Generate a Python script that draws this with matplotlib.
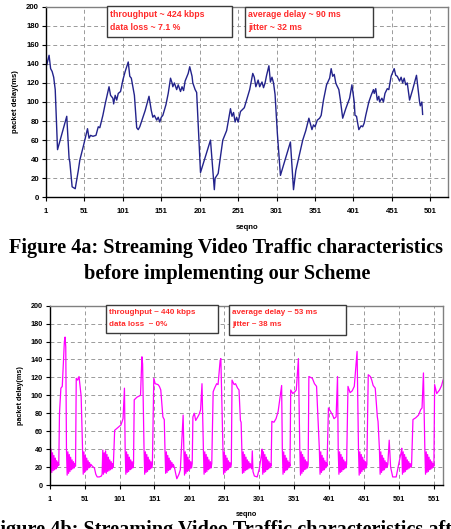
import matplotlib.pyplot as plt
from matplotlib.patches import Rectangle

plt.rcParams['font.family'] = ['Liberation Sans', 'DejaVu Sans']

W, H = 451.0, 529.0

# ---- Figure 4a: before the scheme (seqno, packet delay in ms) ----
top_seq = [1, 2, 5, 7, 9, 11, 13, 16, 28, 31,
           32, 35, 39, 43, 45, 50, 55, 57, 59, 62,
           66, 69, 71, 75, 78, 81, 83, 85, 88, 89,
           91, 93, 95, 98, 101, 104, 108, 110, 112, 114,
           116, 119, 121, 123, 130, 135, 138, 140, 142, 145,
           147, 149, 151, 153, 157, 160, 163, 165, 166, 168,
           171, 173, 176, 178, 180, 182, 186, 188, 191, 192,
           195, 197, 202, 215, 220, 221, 225, 227, 231, 236,
           241, 243, 245, 247, 249, 251, 254, 259, 262, 266,
           270, 272, 274, 277, 279, 282, 284, 286, 288, 291,
           293, 295, 297, 299, 302, 306, 319, 323, 326, 331,
           335, 339, 343, 347, 349, 351, 354, 357, 359, 362,
           366, 370, 372, 374, 376, 378, 379, 382, 384, 387,
           391, 396, 399, 402, 403, 405, 406, 408, 411, 413,
           415, 417, 421, 424, 427, 428, 430, 432, 434, 435,
           438, 440, 442, 445, 447, 450, 454, 456, 458, 461,
           463, 465, 467, 469, 471, 474, 478, 483, 487, 488,
           490, 491]
top_delay = [138, 139, 149, 135, 132, 126, 113, 50, 85, 41,
             37, 11, 9, 28, 39, 55, 72, 62, 65, 64,
             65, 74, 73, 86, 98, 109, 116, 107, 104, 98,
             107, 102, 109, 111, 123, 132, 142, 127, 125, 116,
             107, 73, 71, 74, 91, 106, 91, 84, 86, 81,
             84, 79, 84, 86, 97, 109, 125, 120, 116, 120,
             113, 118, 111, 116, 112, 122, 130, 137, 127, 120,
             113, 110, 26, 60, 8, 20, 25, 37, 60, 70,
             93, 85, 89, 79, 84, 79, 90, 94, 102, 113,
             130, 126, 116, 123, 116, 121, 115, 120, 128, 138,
             121, 126, 120, 108, 67, 23, 58, 8, 28, 46,
             60, 70, 83, 71, 76, 74, 81, 83, 86, 102,
             118, 125, 135, 127, 129, 120, 118, 113, 102, 83,
             93, 104, 118, 100, 86, 85, 80, 71, 75, 74,
             78, 86, 100, 107, 113, 109, 114, 102, 106, 100,
             104, 100, 109, 114, 113, 127, 135, 128, 127, 122,
             126, 120, 125, 118, 120, 102, 113, 128, 100, 96,
             100, 87]
top_xticks = [1, 51, 101, 151, 201, 251, 301, 351, 401, 451, 501]
top_notes = [["throughput ~ 424 kbps", "data loss ~ 7.1 %"],
             ["average delay ~ 90 ms", "jitter ~ 32 ms"]]

# ---- Figure 4b: after the scheme ----
bot_seq = [1, 2, 3, 4, 5, 6, 7, 8, 9, 10, 11, 12, 13, 14,
           15, 17, 19, 22, 23, 24,
           25, 26, 27, 28, 29, 30, 31, 32, 33, 34, 35, 36, 37, 38,
           39, 41, 43, 45, 46,
           48, 49, 50, 51, 52, 53, 54, 55, 56, 57, 58, 59, 60,
           62, 65, 67, 69, 72, 75, 76,
           77, 78, 79, 80, 81, 82, 83, 84, 85, 86, 87, 88, 89, 90, 91, 92,
           94, 97, 100, 103, 106, 108,
           109, 110, 111, 112, 113, 114, 115, 116, 117, 118, 119, 120, 121,
           122, 126, 131, 133, 134,
           136, 137, 138, 139, 140, 141, 142, 143, 144, 145, 146, 147, 148,
           150, 152, 156, 158, 160, 163, 165,
           166, 167, 168, 169, 170, 171, 172, 173, 174, 175, 176, 177, 178,
           180, 181, 183, 186, 188, 192,
           193, 194, 195, 196, 197, 198, 199, 200, 201, 202, 203, 204, 205,
           206, 208, 210, 213, 215, 217, 219,
           221, 222, 223, 224, 225, 226, 227, 228, 229, 230, 231, 232, 233,
           235, 237, 240, 242, 245, 246,
           249, 250, 251, 252, 253, 254, 255, 256, 257, 258, 259, 260, 261,
           262, 265, 267, 270, 272, 274, 275,
           276, 277, 278, 279, 280, 281, 282, 283, 284, 285, 286, 287, 288, 289,
           290, 291, 292, 294, 298, 301, 304,
           305, 306, 307, 308, 309, 310, 311, 312, 313, 314, 315, 316, 317, 318,
           319, 322, 325, 328, 333,
           334, 335, 336, 337, 338, 339, 340, 341, 342, 343, 344, 345,
           346, 349, 352, 354, 357,
           359, 360, 361, 362, 363, 364, 365, 366, 367, 368, 369, 370, 371,
           372, 377, 380, 383, 385,
           387, 388, 389, 390, 391, 392, 393, 394, 395, 396, 397, 398,
           400, 403, 406, 408, 411, 413,
           414, 415, 416, 417, 418, 419, 420, 421, 422, 423, 424, 425, 426,
           428, 431, 434, 437, 441,
           443, 444, 445, 446, 447, 448, 449, 450, 451, 452, 453, 454, 455,
           457, 460, 462, 464, 467, 470, 471,
           473, 474, 475, 476, 477, 478, 479, 480, 481, 482, 483, 484, 485,
           487, 489, 492, 497, 501, 504,
           505, 506, 507, 508, 509, 510, 511, 512, 513, 514, 515, 516, 517, 518, 519,
           521, 525, 529, 532, 534, 536,
           538, 539, 540, 541, 542, 543, 544, 545, 546, 547, 548, 549, 550, 551,
           552, 555, 557, 559, 562, 564]
bot_delay = [43, 13, 40, 14, 36, 16, 33, 17, 30, 18, 27, 20, 25, 22,
             80, 108, 110, 160, 165, 154,
             40, 11, 37, 13, 34, 15, 31, 17, 28, 18, 26, 19, 24, 21,
             119, 117, 121, 106, 99,
             40, 12, 37, 14, 33, 16, 30, 17, 27, 19, 25, 20, 23,
             21, 19, 12, 9, 9, 10, 12,
             39, 12, 36, 14, 38, 13, 34, 15, 31, 16, 28, 17, 26, 18, 24, 20,
             61, 63, 65, 67, 74, 108,
             40, 12, 37, 14, 34, 15, 31, 17, 28, 18, 26, 19, 24,
             95, 98, 100, 143, 135,
             41, 12, 37, 14, 34, 15, 31, 17, 28, 18, 26, 19, 23,
             119, 113, 112, 110, 106, 76, 73,
             40, 13, 37, 14, 33, 16, 30, 17, 27, 19, 25, 20, 23,
             18, 14, 7, 12, 17, 78,
             40, 11, 37, 13, 34, 15, 31, 16, 28, 18, 26, 19, 24,
             76, 80, 72, 76, 79, 84, 113,
             40, 12, 37, 14, 34, 15, 31, 17, 28, 18, 26, 19, 24,
             104, 108, 113, 112, 139, 141,
             40, 12, 37, 14, 33, 16, 30, 17, 27, 19, 25, 20, 23,
             117, 112, 113, 108, 106, 72, 70,
             40, 13, 37, 14, 34, 16, 31, 17, 28, 18, 26, 19, 24, 21,
             18, 38, 15, 10, 9, 18, 33,
             40, 12, 37, 14, 34, 15, 31, 17, 28, 18, 26, 19, 24, 21,
             71, 70, 74, 82, 111,
             40, 12, 37, 14, 33, 16, 30, 17, 27, 19, 25, 21,
             106, 102, 104, 106, 141,
             40, 11, 37, 13, 34, 15, 31, 17, 28, 18, 26, 19, 23,
             121, 119, 113, 110, 74,
             40, 12, 37, 14, 33, 16, 30, 17, 27, 19, 25, 21,
             86, 82, 78, 74, 76, 121,
             40, 12, 37, 14, 34, 15, 31, 17, 28, 18, 26, 19, 23,
             110, 103, 105, 110, 149,
             41, 11, 37, 13, 34, 15, 31, 17, 28, 18, 26, 19, 23,
             123, 121, 117, 111, 108, 76, 71,
             40, 12, 37, 14, 33, 16, 30, 17, 27, 19, 25, 20, 23,
             50, 20, 9, 9, 25, 36,
             41, 12, 37, 14, 34, 15, 31, 17, 28, 18, 26, 19, 24, 20, 22,
             73, 75, 78, 84, 86, 125,
             40, 12, 37, 14, 34, 15, 31, 17, 28, 18, 26, 19, 24, 21,
             112, 102, 104, 106, 111, 117]
bot_xticks = [1, 51, 101, 151, 201, 251, 301, 351, 401, 451, 501, 551]
bot_notes = [["throughput ~ 440 kbps", "data loss  ~ 0%"],
             ["average delay ~ 53 ms", "jitter ~ 38 ms"]]
yticks = [0, 20, 40, 60, 80, 100, 120, 140, 160, 180, 200]


def fx(px):
    return px / W


def fy(py):
    return 1 - py / H


def style_axes(ax, xticks, xmax, fs):
    ax.set_xlim(1, xmax)
    ax.set_ylim(0, 200)
    ax.set_xticks(xticks)
    ax.set_yticks(yticks)
    ax.grid(True, ls=(0, (4, 3)), color='#9a9a9a', lw=0.7)
    ax.set_axisbelow(True)
    for s in ['top', 'right']:
        ax.spines[s].set_color('#808080')
        ax.spines[s].set_linewidth(1.0)
    for s in ['left', 'bottom']:
        ax.spines[s].set_color('black')
        ax.spines[s].set_linewidth(1.0)
    ax.tick_params(axis='y', direction='out', length=3, width=0.8, pad=2, labelsize=fs)
    ax.tick_params(axis='x', direction='out', length=3, width=0.8, pad=5, labelsize=fs)
    for lbl in ax.get_xticklabels() + ax.get_yticklabels():
        lbl.set_fontweight('bold')
    ax.set_xlabel('seqno', fontsize=fs, fontweight='bold', labelpad=6)
    ax.set_ylabel('packet delay(ms)', fontsize=fs, fontweight='bold', labelpad=5)


def note_box(fig, x0, y0, x1, y1, lines, ys, fs):
    fig.add_artist(Rectangle((fx(x0), fy(y1)), fx(x1) - fx(x0), fy(y0) - fy(y1),
                             transform=fig.transFigure, facecolor='white',
                             edgecolor='#3a3a3a', lw=1.0, zorder=5))
    for txt, yy in zip(lines, ys):
        fig.text(fx(x0 + 3), fy(yy), txt, color='#ff2a2a', fontsize=fs,
                 fontweight='bold', va='center', ha='left', zorder=6)


fig = plt.figure(figsize=(W / 100, H / 100), dpi=100)

ax1 = fig.add_axes([fx(46), fy(197.3), fx(448) - fx(46), fy(6.7) - fy(197.3)])
ax1.plot(top_seq, top_delay, color='#23238c', lw=1.0)
style_axes(ax1, top_xticks, 524, 5.6)

ax2 = fig.add_axes([fx(49.7), fy(485), fx(443) - fx(49.7), fy(305.7) - fy(485)])
ax2.plot(bot_seq, bot_delay, color='#ff00ff', lw=0.9)
style_axes(ax2, bot_xticks, 564, 5.2)

note_box(fig, 107, 6, 232, 37, top_notes[0], [14.7, 28], 6.3)
note_box(fig, 245, 6.7, 373, 37.3, top_notes[1], [14.7, 28], 6.3)
note_box(fig, 105.7, 305, 217.7, 333.3, bot_notes[0], [312.7, 324.3], 5.8)
note_box(fig, 229.3, 305, 345.7, 335, bot_notes[1], [312.7, 325], 5.8)

cap = dict(family='Liberation Serif', fontweight='bold', fontsize=14.6, color='black')
fig.text(fx(226), fy(253), 'Figure 4a: Streaming Video Traffic characteristics',
         ha='center', va='baseline', **cap)
fig.text(fx(227), fy(279), 'before implementing our Scheme',
         ha='center', va='baseline', **cap)
fig.text(fx(-12), fy(535), 'Figure 4b: Streaming Video Traffic characteristics after',
         ha='left', va='baseline', **cap)

fig.savefig('out.png', dpi=100)
